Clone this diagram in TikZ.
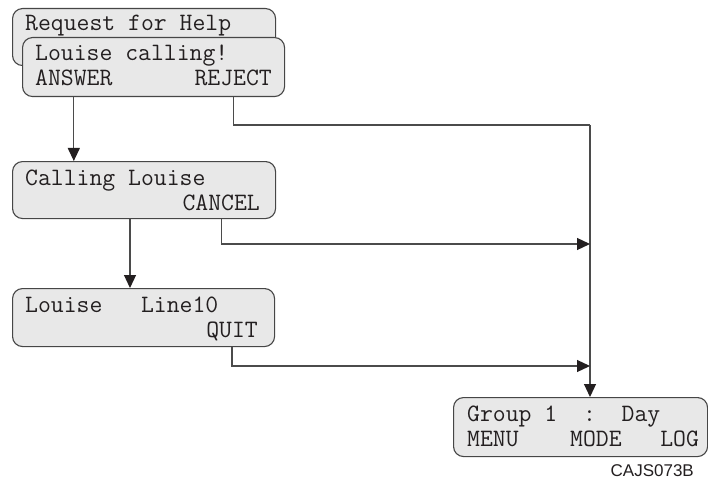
\documentclass[tikz,border=0pt]{standalone}
\usepackage{fontspec}
\setsansfont{Liberation Sans}
\usetikzlibrary{arrows.meta,positioning}
\definecolor{lcdgray}{RGB}{232,232,232}
\definecolor{framegray}{RGB}{70,70,70}
\definecolor{wiregray}{RGB}{75,75,75}
\definecolor{inkgray}{RGB}{35,31,32}

\begin{document}
\begin{tikzpicture}[
    x=1pt, y=-1pt,
    lcd/.style={draw=framegray, fill=lcdgray, line width=1.1pt, rounded corners=10pt,
        anchor=north west, minimum width=263pt, minimum height=57pt, inner sep=0pt},
    lcdtext/.style={font=\ttfamily\fontsize{25}{28}\selectfont, text=inkgray, inner sep=0pt},
    wire/.style={draw=wiregray, line width=1.2pt},
    >={Triangle[length=13pt, width=12pt, color=inkgray]}
]
\useasboundingbox (0,0) rectangle (708,481);

% incoming call display
\node[lcd, minimum height=57pt] (help) at (12,8) {};
\node[lcdtext, anchor=base west] (helptitle) at (25,31) {Request for Help};
\node[lcd, minimum width=262pt, minimum height=59pt] (call) at (22,37) {};
\node[lcdtext, anchor=base west] (calltitle) at (35,61) {Louise calling!};
\node[lcdtext, anchor=base west] (answer) at (35,86) {ANSWER};
\node[lcdtext, anchor=base east] (reject) at (272,86) {REJECT};

\node[lcd] (dial) at (12,161) {};
\node[lcdtext, anchor=base west] (dialtitle) at (25,185) {Calling Louise};
\node[lcdtext, anchor=base east] (cancel) at (260,210) {CANCEL};

\node[lcd, minimum width=262pt, minimum height=58pt] (talk) at (12,288) {};
\node[lcdtext, anchor=base west] (talktitle) at (25,312) {Louise~~~Line10};
\node[lcdtext, anchor=base east] (quit) at (258,337) {QUIT};

\node[lcd, minimum width=254pt, minimum height=59pt] (idle) at (453,397) {};
\node[lcdtext, anchor=base west] (idletitle) at (467,421) {Group~1~~:~~Day};
\node[lcdtext, anchor=base west] (idlekeys) at (467,446) {MENU~~~~MODE~~~LOG};

\node[font=\sffamily\fontsize{17}{20}\selectfont, text=inkgray, inner sep=0pt, anchor=base east] (figid) at (694,476) {CAJS073B};

% return line
\coordinate (bus) at (590,125);
\coordinate (cancelin) at (590,244);
\coordinate (quitin) at (590,366);
\coordinate (dialout) at (130,218);

\draw[wire, ->] (answer |- call.south) -- (answer |- dial.north);
\draw[wire, ->] (dialout) -- (dialout |- talk.north);
\draw[wire] (reject |- call.south) |- (bus);
\draw[wire, ->] (bus) -- (bus |- idle.north);
\draw[wire, ->] (cancel |- dial.south) |- (cancelin);
\draw[wire, ->] (quit |- talk.south) |- (quitin);
\end{tikzpicture}
\end{document}
